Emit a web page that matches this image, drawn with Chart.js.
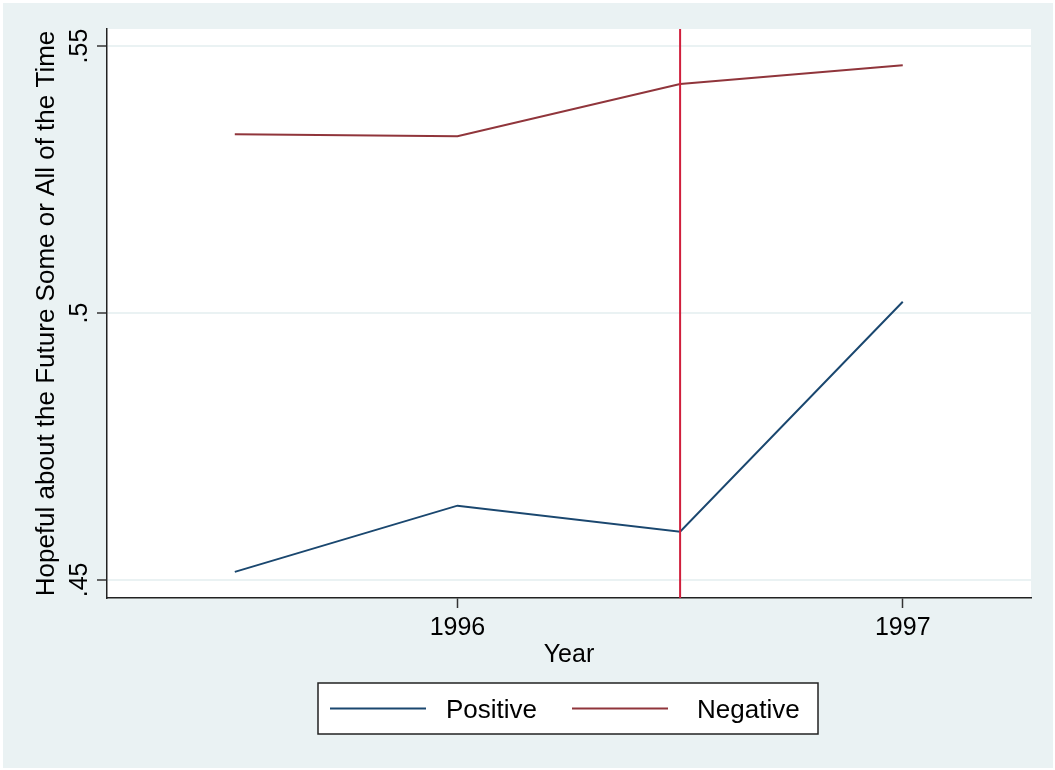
<!DOCTYPE html>
<html>
<head>
<meta charset="utf-8">
<script src="https://cdn.jsdelivr.net/npm/chart.js@4.4.0/dist/chart.umd.min.js"></script>
<style>
  html, body { margin: 0; padding: 0; background: #fff; }
  canvas { display: block; }
</style>
</head>
<body>
<canvas id="chart" width="1055" height="770"></canvas>
<script>
// data
const years = [1995.5, 1996, 1996.5, 1997];
const positive = [0.4515, 0.4639, 0.4590, 0.5021];
const negative = [0.5335, 0.5331, 0.5429, 0.5464];
const seriesNames = ["Positive", "Negative"];
const xTicks = [1996, 1997];
const yTicks = [0.45, 0.5, 0.55];
const yTickLabels = [".45", ".5", ".55"];
const refYear = 1996.5;

const FONT = "'Liberation Sans', Arial, Helvetica, sans-serif";
const bgColor = "#EAF2F3";
const colors = ["#1A476F", "#90353B"];

const stataPlugin = {
  id: "stata",
  beforeDraw(chart) {
    const ctx = chart.ctx;
    const a = chart.chartArea;
    ctx.save();
    ctx.fillStyle = "#fff";
    ctx.fillRect(0, 0, chart.width, chart.height);
    ctx.fillStyle = bgColor;
    ctx.fillRect(3, 3, chart.width - 5, chart.height - 5);
    ctx.fillStyle = "#fff";
    ctx.fillRect(a.left, a.top, a.right - a.left, a.bottom - a.top);
    ctx.restore();
  },
  afterDatasetsDraw(chart) {
    const ctx = chart.ctx;
    const a = chart.chartArea;
    const x = chart.scales.x.getPixelForValue(refYear);
    ctx.save();
    ctx.strokeStyle = "#D01F3C";
    ctx.lineWidth = 2;
    ctx.beginPath();
    ctx.moveTo(x, a.top);
    ctx.lineTo(x, a.bottom);
    ctx.stroke();
    ctx.restore();
  },
  afterDraw(chart) {
    const ctx = chart.ctx;
    const a = chart.chartArea;
    const ys = chart.scales.y;
    ctx.save();
    ctx.fillStyle = "#000";

    // y tick labels, rotated
    ctx.font = "25px " + FONT;
    ctx.textAlign = "center";
    ctx.textBaseline = "middle";
    yTicks.forEach((v, i) => {
      const y = ys.getPixelForValue(v);
      ctx.save();
      ctx.translate(80, y);
      ctx.rotate(-Math.PI / 2);
      ctx.fillText(yTickLabels[i], 0, 0);
      ctx.restore();
    });

    // y title
    ctx.font = "26px " + FONT;
    ctx.save();
    ctx.translate(47, (a.top + a.bottom) / 2);
    ctx.rotate(-Math.PI / 2);
    ctx.fillText("Hopeful about the Future Some or All of the Time", 0, 0);
    ctx.restore();

    // legend box
    const lx = 318, ly = 683, lw = 500, lh = 51;
    ctx.strokeStyle = "#222";
    ctx.lineWidth = 1.5;
    ctx.fillStyle = "#fff";
    ctx.fillRect(lx, ly, lw, lh);
    ctx.strokeRect(lx, ly, lw, lh);
    const midY = ly + lh / 2;
    const items = [[330, 446], [572, 697]];
    ctx.font = "26px " + FONT;
    ctx.textAlign = "left";
    items.forEach((it, i) => {
      ctx.strokeStyle = colors[i];
      ctx.lineWidth = 2;
      ctx.beginPath();
      ctx.moveTo(it[0], midY);
      ctx.lineTo(it[0] + 96, midY);
      ctx.stroke();
      ctx.fillStyle = "#000";
      ctx.fillText(seriesNames[i], it[1], midY + 2);
    });
    ctx.restore();
  }
};

const series = [positive, negative];

new Chart(document.getElementById("chart"), {
  type: "line",
  data: {
    datasets: series.map((vals, i) => ({
      label: seriesNames[i],
      data: years.map((yr, j) => ({ x: yr, y: vals[j] })),
      borderColor: colors[i],
      borderWidth: 2,
      pointRadius: 0,
      tension: 0,
      fill: false
    }))
  },
  options: {
    responsive: false,
    animation: false,
    devicePixelRatio: 1,
    layout: { padding: { top: 29, right: 24, left: 10, bottom: 102 } },
    plugins: { legend: { display: false }, tooltip: { enabled: false } },
    scales: {
      x: {
        type: "linear",
        min: 1995.213,
        max: 1997.288,
        afterBuildTicks: s => { s.ticks = xTicks.map(v => ({ value: v })); },
        afterFit: s => { s.height = 70; },
        ticks: {
          callback: v => String(v),
          color: "#000",
          font: { family: FONT, size: 25, lineHeight: 1 },
          padding: 8,
          maxRotation: 0,
          autoSkip: false
        },
        grid: { drawOnChartArea: false, drawTicks: true, tickLength: 10, tickColor: "#333", tickWidth: 1.5 },
        border: { display: true, color: "#222", width: 1.5 },
        title: {
          display: true,
          text: "Year",
          color: "#000",
          font: { family: FONT, size: 25, lineHeight: 1 },
          padding: { top: 1, bottom: 0 }
        }
      },
      y: {
        type: "linear",
        min: 0.4466,
        max: 0.5532,
        afterBuildTicks: s => { s.ticks = yTicks.map(v => ({ value: v })); },
        afterFit: s => { s.width = 97; },
        ticks: { display: false },
        grid: { drawOnChartArea: true, color: bgColor, lineWidth: 2, drawTicks: true, tickLength: 10, tickColor: "#333", tickWidth: 1.5 },
        border: { display: true, color: "#222", width: 1.5 }
      }
    }
  },
  plugins: [stataPlugin]
});
</script>
</body>
</html>
